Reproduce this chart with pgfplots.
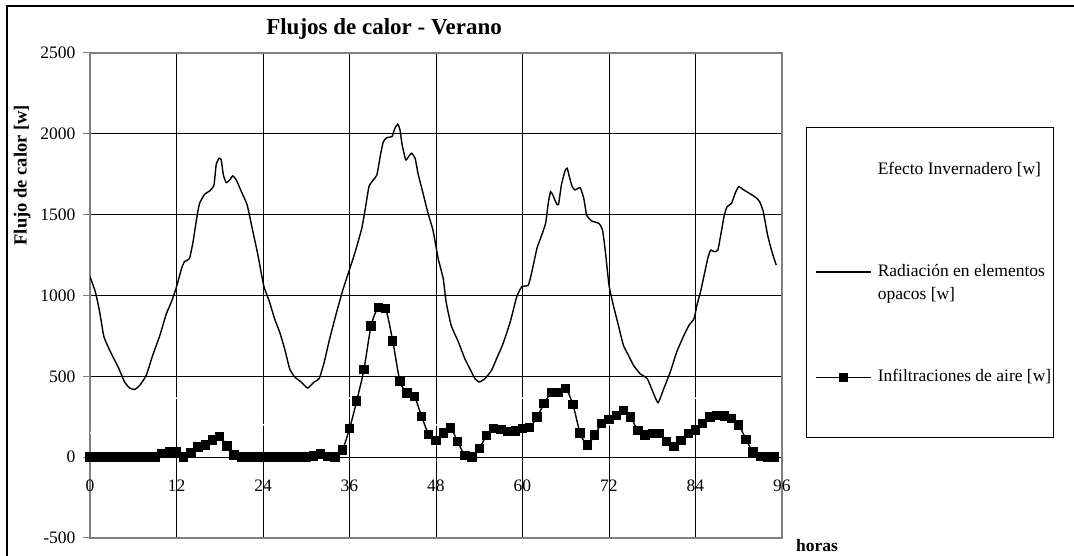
\documentclass[border=0pt]{standalone}
\usepackage{fontspec}
\setmainfont{Liberation Serif}
\usepackage{pgfplots}
\pgfplotsset{compat=1.18}
\pgfplotsset{radleg/.style={legend image code/.code={\draw[##1] plot coordinates {(0pt,27pt) (55pt,27pt)};}}}
\begin{document}
\begin{tikzpicture}
\path[use as bounding box] (0pt,0pt) rectangle (1074pt,556pt);
\draw[black, line width=1.2pt] (7pt,-2pt) -- (7pt,550pt) -- (1080pt,550pt);
\draw[black, line width=0.8pt] (806pt,119pt) rectangle (1053pt,429pt);
\begin{axis}[
  at={(90pt,18pt)}, anchor=south west,
  scale only axis, width=692pt, height=485pt,
  xmin=0, xmax=96, ymin=-500, ymax=2500,
  xtick={0,12,...,96}, ytick={-500,0,...,2500},
  grid=major, major grid style={black, line width=0.7pt},
  axis line style={gray, line width=1.3pt},
  tickpos=left, tick align=outside, major tick length=7pt,
  xtick style={draw=none}, ytick style={gray, line width=1pt},
  /pgf/number format/assume math mode=true,
  /pgf/number format/set thousands separator={},
  tick label style={font=\fontsize{17.5}{21}\selectfont},
  xticklabel style={yshift=69pt},
  yticklabel style={xshift=-4pt},
  title={Flujos de calor - Verano},
  title style={at={(axis description cs:0.4249,1.037)}, anchor=center, font=\bfseries\fontsize{23}{27}\selectfont},
  ylabel={Flujo de calor [w]},
  ylabel style={at={(axis description cs:-0.098,0.748)}, anchor=center, font=\bfseries\fontsize{18.5}{22}\selectfont},
  xlabel={horas},
  xlabel style={at={(axis description cs:1.0506,-0.0164)}, anchor=center, font=\bfseries\fontsize{17.5}{21}\selectfont},
  legend style={draw=none, fill=none, inner sep=0pt, at={(axis description cs:1.0477,0.7753)}, anchor=north west,
    row sep=66pt, column sep=6pt, nodes={inner sep=0pt, text depth=, align=left}, cells={anchor=base west},
    font=\fontsize{17.5}{23}\selectfont},
  legend image code/.code={\draw[mark repeat=2,mark phase=2,#1] plot coordinates {(0pt,4pt) (27.5pt,4pt) (55pt,4pt)};},
]
\addplot[white, line width=1.6pt, smooth] coordinates {
(0,150) (6,260) (12,365) (18,290) (24,200) (30,280) (36,365) (42,290) (48,200) (54,280) (60,365) (66,290) (72,200) (78,280) (84,365) (90,290) (95,210)};
\addlegendentry{Efecto Invernadero [w]\rule[-23.5pt]{0pt}{23.5pt}}
\addplot[black, line width=1.4pt, smooth, tension=0.3, radleg] coordinates {
(0,1116) (0.74,1023) (1.34,899) (1.94,744) (2.96,640) (3.9,558) (4.8,465) (5.5,428) (6.2,419) (6.9,444)
(7.8,506) (8.7,630) (9.7,754) (10.6,888) (11.3,961) (12.0,1054) (12.7,1167) (13.1,1209) (13.8,1229) (14.3,1333)
(14.8,1477) (15.2,1570) (15.9,1626) (16.6,1647) (17.2,1684) (17.5,1808) (17.9,1849) (18.2,1839) (18.5,1746) (18.9,1698)
(19.4,1715) (19.8,1740) (20.3,1715) (21.0,1642) (21.8,1560) (22.6,1395) (23.3,1250) (24.1,1060) (24.9,961) (25.6,857)
(26.3,775) (27.0,671) (27.7,547) (28.4,496) (29.3,465) (30.2,428) (31.1,465) (31.8,486) (32.5,589) (33.2,723)
(34.1,878) (35.0,1023) (35.9,1147) (36.8,1271) (37.7,1415) (38.2,1539) (38.7,1673) (39.3,1715) (39.8,1746) (40.3,1870)
(40.7,1952) (41.2,1977) (41.9,1983) (42.3,2035) (42.7,2060) (43.0,2025) (43.3,1932) (43.8,1839) (44.2,1859) (44.6,1880)
(45.1,1849) (45.5,1756) (46.2,1632) (46.9,1508) (47.6,1400) (48.3,1229) (49.0,1105) (49.4,961) (50.1,816) (51.1,713)
(52.0,609) (52.7,547) (53.4,486) (54.0,465) (54.8,486) (55.7,537) (56.4,609) (57.3,702) (58.3,837) (59.2,992)
(59.9,1054) (60.8,1064) (61.3,1147) (62.0,1291) (62.5,1353) (63.2,1446) (63.6,1580) (63.9,1642) (64.2,1622) (64.7,1570)
(65.0,1564) (65.4,1684) (65.9,1771) (66.2,1787) (66.5,1735) (66.9,1673) (67.3,1653) (68.0,1667) (68.5,1601) (68.9,1498)
(69.6,1461) (70.6,1446) (71.1,1405) (71.5,1271) (72.0,1064) (72.6,940) (73.3,816) (74.0,692) (74.7,630) (75.4,568)
(76.3,517) (77.3,486) (78.0,413) (78.8,337) (79.6,424) (80.5,527) (81.4,651) (82.4,754) (83.1,816) (83.8,857)
(84.2,940) (84.7,1023) (85.2,1126) (85.7,1229) (86.1,1281) (86.6,1271) (87.1,1281) (87.5,1374) (88.0,1498) (88.4,1550)
(89.0,1570) (89.5,1632) (90.0,1673) (90.7,1653) (91.7,1626) (92.4,1605) (92.9,1580) (93.4,1519) (94.0,1374) (94.6,1271)
(95.2,1188)};
\addlegendentry{Radiación en elementos\\opacos [w]}
\addplot[black, line width=1.4pt, smooth, tension=0.5, mark=square*, mark size=4pt, mark options={solid}] coordinates {
(0,0) (1,0) (2,0) (3,0) (4,0) (5,0) (6,0) (7,0) (8,0) (9,0)
(10,21) (11,31) (12,31) (13,0) (14,29) (15,62) (16,76) (17,107) (18,128) (19,70)
(20,14) (21,0) (22,0) (23,0) (24,0) (25,0) (26,0) (27,0) (28,0) (29,0)
(30,0) (31,8) (32,20) (33,4) (34,0) (35,45) (36,176) (37,348) (38,542) (39,812)
(40,926) (41,919) (42,719) (43,471) (44,397) (45,376) (46,252) (47,140) (48,103) (49,149)
(50,180) (51,97) (52,10) (53,0) (54,52) (55,134) (56,176) (57,171) (58,159) (59,161)
(60,176) (61,182) (62,248) (63,331) (64,399) (65,399) (66,424) (67,324) (68,149) (69,76)
(70,138) (71,207) (72,233) (73,258) (74,289) (75,248) (76,165) (77,138) (78,145) (79,145)
(80,97) (81,66) (82,103) (83,145) (84,169) (85,207) (86,248) (87,258) (88,254) (89,238)
(90,200) (91,110) (92,31) (93,4) (94,0) (95,0)};
\addlegendentry{Infiltraciones de aire [w]}
\end{axis}
\end{tikzpicture}
\end{document}
